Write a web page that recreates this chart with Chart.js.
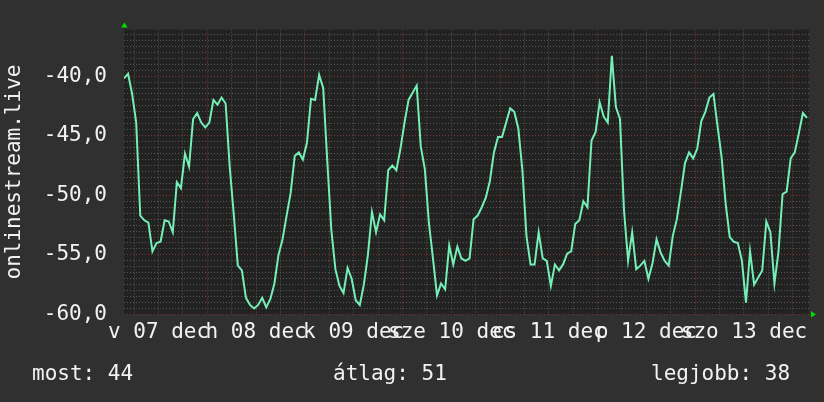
<!DOCTYPE html>
<html>
<head>
<meta charset="utf-8">
<script src="https://cdn.jsdelivr.net/npm/chart.js@4.4.0/dist/chart.umd.min.js"></script>
<style>
html,body{margin:0;padding:0;background:#303030;}
#wrap{position:relative;width:824px;height:402px;overflow:hidden;}
.legend{position:absolute;top:363px;font:21px/21px "DejaVu Sans Mono",monospace;color:#f2f2f2;white-space:pre;}
</style>
</head>
<body>
<div id="wrap">
  <canvas id="graph" width="824" height="402"></canvas>
</div>
<script>
// one week, hourly samples, hours counted from dec 07 00:00
const dayLabels = ['v 07 dec', 'h 08 dec', 'k 09 dec', 'sze 10 dec', 'cs 11 dec', 'p 12 dec', 'szo 13 dec'];
const startHour = 3.5;
const endHour = 172;
const temps = [
  -40.2, -39.8, -41.5, -43.9, -51.7, -52.1, -52.3, -54.7, -54.0, -53.9, -52.1, -52.2, -53.1, -48.9,
  -49.4, -46.5, -47.6, -43.6, -43.1, -43.9, -44.3, -43.9, -42.0, -42.4, -41.8, -42.3, -47.6, -51.6,
  -55.9, -56.3, -58.6, -59.2, -59.5, -59.2, -58.6, -59.4, -58.7, -57.4, -55.0, -53.7, -51.7, -49.8,
  -46.7, -46.4, -47.0, -45.6, -41.9, -42.0, -39.9, -41.0, -47.1, -52.9, -56.2, -57.6, -58.2, -56.1,
  -57.0, -58.8, -59.2, -57.5, -55.0, -51.4, -53.1, -51.6, -52.1, -47.9, -47.5, -47.9, -46.1, -43.9,
  -42.0, -41.4, -40.8, -45.9, -47.8, -52.3, -55.3, -58.4, -57.4, -57.9, -54.2, -55.8, -54.3, -55.3,
  -55.5, -55.3, -52.0, -51.7, -51.0, -50.2, -48.8, -46.4, -45.1, -45.1, -43.9, -42.7, -43.0, -44.4,
  -47.9, -53.4, -55.8, -55.8, -53.1, -55.3, -55.5, -57.6, -55.8, -56.3, -55.8, -54.9, -54.7, -52.4,
  -52.1, -50.5, -51.0, -45.4, -44.7, -42.2, -43.4, -43.9, -38.3, -42.6, -43.6, -51.3, -55.5, -53.1,
  -56.2, -55.9, -55.5, -57.0, -55.7, -53.7, -54.8, -55.5, -55.9, -53.4, -52.0, -49.7, -47.3, -46.4,
  -46.9, -46.1, -43.8, -43.0, -41.8, -41.5, -44.2, -46.8, -50.7, -53.5, -53.9, -54.0, -55.5, -59.0,
  -54.7, -57.5, -56.9, -56.3, -52.2, -53.1, -57.4, -54.7, -49.9, -49.7, -46.9, -46.4, -44.8, -43.1,
  -43.5
];
const yMin = -60;
const yMax = -36.1;
const legendTexts = ['most: 44', 'átlag: 51', 'legjobb: 38'];
const legendLeft = [32, 333, 651];

const points = temps.map((v, i) => ({x: startHour + i, y: v}));

const wrap = document.getElementById('wrap');
legendTexts.forEach((t, i) => {
  const d = document.createElement('div');
  d.className = 'legend';
  d.style.left = legendLeft[i] + 'px';
  d.textContent = t;
  wrap.appendChild(d);
});

const gridGrey = '#575757';
const gridRed = '#813434';
const monoFont = {family: '"DejaVu Sans Mono", monospace', size: 21};

const rrdFrame = {
  id: 'rrdFrame',
  beforeDraw(chart) {
    const {ctx, chartArea: a} = chart;
    ctx.save();
    ctx.fillStyle = '#222222';
    ctx.fillRect(a.left, a.top, a.right - a.left, a.bottom - a.top);
    ctx.restore();
  },
  afterDraw(chart) {
    // small green arrows at the axis ends
    const {ctx, chartArea: a} = chart;
    ctx.save();
    ctx.fillStyle = '#00dd00';
    ctx.beginPath();
    ctx.moveTo(a.left - 3, a.top - 2);
    ctx.lineTo(a.left + 3.5, a.top - 2);
    ctx.lineTo(a.left + 0.5, a.top - 7);
    ctx.fill();
    ctx.beginPath();
    ctx.moveTo(a.right + 2, a.bottom - 3.5);
    ctx.lineTo(a.right + 2, a.bottom + 3);
    ctx.lineTo(a.right + 7, a.bottom);
    ctx.fill();
    ctx.restore();
  }
};

new Chart(document.getElementById('graph'), {
  type: 'line',
  data: {
    datasets: [{
      data: points,
      borderColor: '#74f0b6',
      borderWidth: 2,
      pointRadius: 0,
      tension: 0,
      fill: false
    }]
  },
  options: {
    responsive: false,
    animation: false,
    events: [],
    layout: {padding: {top: 15, right: 15, left: 0, bottom: 0}},
    plugins: {legend: {display: false}, tooltip: {enabled: false}},
    scales: {
      x: {
        type: 'linear',
        min: startHour,
        max: endHour,
        afterBuildTicks: (scale) => {
          const t = [];
          for (let h = 6; h < endHour; h += 6) t.push({value: h});
          scale.ticks = t;
        },
        afterFit: (scale) => { scale.height = 87.5; },
        grid: {
          drawTicks: false,
          lineWidth: 1,
          color: (c) => (c.tick && c.tick.value % 24 === 0) ? gridRed : gridGrey
        },
        border: {display: false, dash: [1, 2]},
        ticks: {
          autoSkip: false,
          maxRotation: 0,
          minRotation: 0,
          padding: 5,
          color: '#f2f2f2',
          font: monoFont,
          callback: (v) => v % 24 === 12 ? dayLabels[(v - 12) / 24] : ''
        }
      },
      y: {
        min: yMin,
        max: yMax,
        afterBuildTicks: (scale) => {
          const t = [];
          for (let v = yMin; v <= yMax; v += 0.5) t.push({value: v});
          scale.ticks = t;
        },
        afterFit: (scale) => { scale.width = 124; },
        grid: {
          drawTicks: false,
          lineWidth: 1,
          color: (c) => (c.tick && c.tick.value % 5 === 0) ? gridRed : gridGrey
        },
        border: {display: false, dash: [1, 2]},
        title: {
          display: true,
          text: 'onlinestream.live',
          color: '#f2f2f2',
          font: monoFont,
          padding: {top: 2, bottom: 0}
        },
        ticks: {
          autoSkip: false,
          padding: 17,
          color: '#f2f2f2',
          font: monoFont,
          callback: (v) => v % 5 === 0 ? v.toFixed(1).replace('.', ',') : ''
        }
      }
    }
  },
  plugins: [rrdFrame]
});
</script>
</body>
</html>
